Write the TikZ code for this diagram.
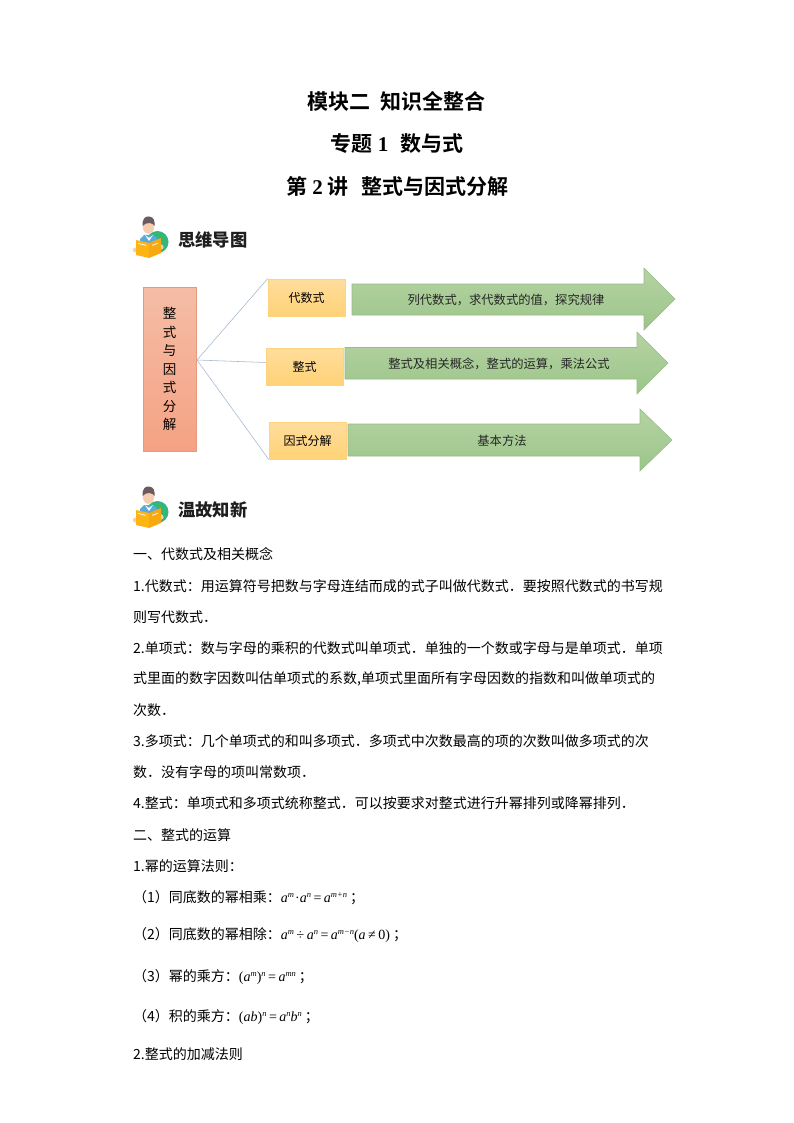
\documentclass[tikz,border=0pt]{standalone}
\usepackage{fontspec}
\setmainfont{Noto Sans CJK SC}
\newfontfamily\titlecjk[BoldFont={Noto Sans CJK SC Bold}]{Noto Sans CJK SC}
\newfontfamily\titlelat{Liberation Serif}
\newcommand{\vb}[1]{{\titlelat\itshape\fontsize{14}{16}\selectfont #1}}
\newcommand{\up}[1]{{\titlelat\fontsize{14}{16}\selectfont #1}}
\newcommand{\ex}[1]{\raisebox{5pt}{\titlelat\itshape\fontsize{8.5}{9}\selectfont #1}}
\newcommand{\op}[1]{\hspace{2.5pt}\up{#1}\hspace{2.5pt}}
\tikzset{
  x=1pt,y=-1pt,
  rootbox/.style={draw=rootline,line width=.5pt,top color=rootA,bottom color=rootB,minimum width=53pt,minimum height=164pt,inner sep=0pt},
  itembox/.style={draw=itemline,line width=.7pt,top color=itemA,bottom color=itemB,minimum width=77pt,minimum height=37pt,inner sep=0pt,font=\fontsize{12}{14}\selectfont},
  greenarrow/.style={draw=arrowline,line width=.6pt,top color=arrowA,bottom color=arrowB},
  arrowtext/.style={inner sep=0pt,font=\fontsize{12.3}{14}\selectfont,text=black!85},
  link/.style={draw=linkcol,line width=.55pt},
  titletext/.style={inner sep=0pt,anchor=center,font=\titlecjk\bfseries\fontsize{21}{24}\selectfont},
  headtext/.style={inner sep=0pt,anchor=west,font=\bfseries\fontsize{17.3}{20}\selectfont,text=black!88},
  plainline/.style={inner sep=0pt,anchor=west,font=\fontsize{14}{16}\selectfont},
}
\definecolor{rootline}{HTML}{E39A80}
\definecolor{rootA}{HTML}{F5BDA6}
\definecolor{rootB}{HTML}{F5A283}
\definecolor{itemline}{HTML}{FFD27F}
\definecolor{itemA}{HTML}{FFDD9C}
\definecolor{itemB}{HTML}{FFD277}
\definecolor{arrowline}{HTML}{97BD85}
\definecolor{arrowA}{HTML}{B5D3A3}
\definecolor{arrowB}{HTML}{9CC58A}
\definecolor{linkcol}{HTML}{A3B8D0}
\definecolor{iconGreen}{HTML}{35B57A}
\definecolor{iconBook}{HTML}{FDB515}
\definecolor{iconBookD}{HTML}{F8A90F}
\definecolor{iconHair}{HTML}{6B5A5E}
\definecolor{iconSkin}{HTML}{F6CDB0}
\definecolor{iconBlue}{HTML}{5AA9DC}
\newcommand{\readericon}[2]{%
\begin{scope}[shift={(#1,#2)}]
  \fill[iconGreen] (23.5,26) circle (11);
  \fill[iconBlue] (6,23) -- (10,19) -- (20,19) -- (24,24) -- (24,36) -- (6,36) -- cycle;
  \fill[white] (11,19) -- (15,22) -- (19,19) -- (15,25) -- cycle;
  \fill[iconSkin] (14.5,11) ellipse (5.6 and 6.8);
  \fill[iconHair] (8.6,10) .. controls (8,2) and (12,0) .. (15,0.5) .. controls (20,1) and (21,5) .. (20.5,10) .. controls (19,6.5) and (12,5.5) .. (8.6,10) -- cycle;
  \fill[iconSkin] (1.5,34) circle (2.6) (27,31) circle (2.6);
  \fill[iconBook] (2,24) -- (15,27) -- (15,42) -- (2,39) -- cycle;
  \fill[iconBookD] (15,27) -- (27,22) -- (27,37) -- (15,42) -- cycle;
  \fill[white!90!iconBook] (4,27) -- (12,29) -- (12,29.8) -- (4,27.8) -- cycle (18,29) -- (24,26.8) -- (24,27.6) -- (18,29.8) -- cycle;
\end{scope}}
\begin{document}
\begin{tikzpicture}
\useasboundingbox (0,0) rectangle (794,1123);
\fill[white] (0,0) rectangle (794,1123);
% titles
\node[titletext] (t1) at (396.5,101) {模块二\hspace{11pt}知识全整合};
\node[titletext] (t2) at (397,144) {专题\hspace{5pt}{\titlelat\bfseries 1}\hspace{12pt}数与式};
\node[titletext] (t3) at (397.5,186) {第\hspace{5pt}{\titlelat\bfseries 2}\hspace{5pt}讲\hspace{13pt}整式与因式分解};
% section heads
\readericon{134}{216}
\node[headtext] (h1) at (178,240) {思维导图};
\readericon{134}{486}
\node[headtext] (h2) at (178,510) {温故知新};
% mind map
\node[rootbox,align=center,font=\fontsize{13.5}{18.5}\selectfont] (root) at (169.5,369) {整\\式\\与\\因\\式\\分\\解};
\coordinate (hub) at (197,360);
\node[itembox] (a) at (306.5,297.5) {代数式};
\node[itembox] (b) at (304.5,366.5) {整式};
\node[itembox] (c) at (307.5,440.5) {因式分解};
\draw[link] (hub) -- (a.north west);
\draw[link] (hub) -- ([yshift=4pt]b.west);
\draw[link] (hub) -- (c.south west);
\draw[greenarrow] (352,284) -- (644,284) -- (644,268) -- (675,299) -- (644,330) -- (644,315) -- (352,315) -- cycle;
\node[arrowtext] (ta) at (506,300) {列代数式，求代数式的值，探究规律};
\draw[greenarrow] (345,347.5) -- (637,347.5) -- (637,332) -- (668,363) -- (637,394) -- (637,379) -- (345,379) -- cycle;
\node[arrowtext] (tb) at (499,364) {整式及相关概念，整式的运算，乘法公式};
\draw[greenarrow] (348,424) -- (640,424) -- (640,409) -- (672,440) -- (640,471) -- (640,456) -- (348,456) -- cycle;
\node[arrowtext] (tc) at (502,441) {基本方法};
% body
\node[plainline] (l1) at (133,554) {一、代数式及相关概念};
\node[plainline] (l2) at (133,586) {1.代数式：用运算符号把数与字母连结而成的式子叫做代数式．要按照代数式的书写规};
\node[plainline] (l3) at (133,617) {则写代数式．};
\node[plainline] (l4) at (133,648) {2.单项式：数与字母的乘积的代数式叫单项式．单独的一个数或字母与是单项式．单项};
\node[plainline] (l5) at (133,679) {式里面的数字因数叫估单项式的系数,单项式里面所有字母因数的指数和叫做单项式的};
\node[plainline] (l6) at (133,710) {次数．};
\node[plainline] (l7) at (133,741) {3.多项式：几个单项式的和叫多项式．多项式中次数最高的项的次数叫做多项式的次};
\node[plainline] (l8) at (133,772) {数．没有字母的项叫常数项．};
\node[plainline] (l9) at (133,803) {4.整式：单项式和多项式统称整式．可以按要求对整式进行升幂排列或降幂排列．};
\node[plainline] (l10) at (133,835) {二、整式的运算};
\node[plainline] (l11) at (133,866) {1.幂的运算法则：};
\node[plainline] (l12) at (133,898) {（1）同底数的幂相乘：\vb{a}\ex{m}\hspace{1pt}\up{·}\vb{a}\ex{n}\op{=}\vb{a}\ex{m+n}\hspace{3pt}；};
\node[plainline] (l13) at (133,935) {（2）同底数的幂相除：\vb{a}\ex{m}\op{÷}\vb{a}\ex{n}\op{=}\vb{a}\ex{m−n}\up{(}\vb{a}\op{≠}\up{0)}\hspace{3pt}；};
\node[plainline] (l14) at (133,977) {（3）幂的乘方：\up{(}\vb{a}\ex{m}\up{)}\ex{n}\op{=}\vb{a}\ex{mn}\hspace{3pt}；};
\node[plainline] (l15) at (133,1017) {（4）积的乘方：\up{(}\vb{ab}\up{)}\ex{n}\op{=}\vb{a}\ex{n}\vb{b}\ex{n}\hspace{3pt}；};
\node[plainline] (l16) at (133,1054) {2.整式的加减法则};
\end{tikzpicture}
\end{document}
